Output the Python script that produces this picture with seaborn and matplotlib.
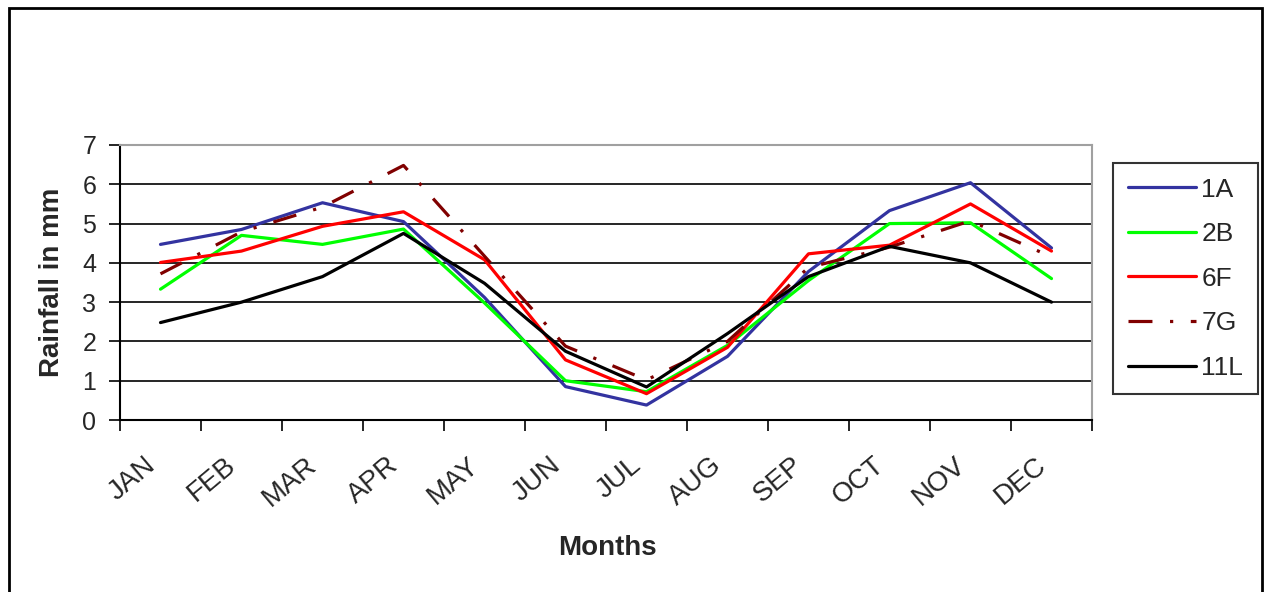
import matplotlib
matplotlib.use("Agg")
import matplotlib.pyplot as plt
import matplotlib.patches as mpatches
from matplotlib.transforms import ScaledTranslation
import seaborn as sns
import pandas as pd

months = ["JAN", "FEB", "MAR", "APR", "MAY", "JUN",
          "JUL", "AUG", "SEP", "OCT", "NOV", "DEC"]
s_1A = [4.47, 4.85, 5.53, 5.05, 3.12, 0.85, 0.38, 1.62, 3.78, 5.33, 6.04, 4.38]
s_2B = [3.33, 4.70, 4.47, 4.86, 2.98, 1.00, 0.72, 1.90, 3.55, 5.00, 5.02, 3.60]
s_6F = [4.01, 4.30, 4.93, 5.30, 4.08, 1.53, 0.67, 1.85, 4.23, 4.45, 5.50, 4.30]
s_7G = [3.72, 4.79, 5.42, 6.48, 4.17, 1.88, 1.02, 2.00, 3.88, 4.40, 5.07, 4.15]
s_11L = [2.48, 3.00, 3.65, 4.75, 3.48, 1.75, 0.84, 2.20, 3.65, 4.42, 4.00, 3.00]
series_names = ["1A", "2B", "6F", "7G", "11L"]
series_vals = [s_1A, s_2B, s_6F, s_7G, s_11L]
y_ticks = [0, 1, 2, 3, 4, 5, 6, 7]

rows = []
for name, vals in zip(series_names, series_vals):
    for i, v in enumerate(vals):
        rows.append({"idx": i, "month": months[i], "rain": v, "site": name})
df = pd.DataFrame(rows)

sns.set_style("white")
plt.rcParams["font.family"] = ["Liberation Sans", "DejaVu Sans"]

W, H = 1265, 592
fig = plt.figure(figsize=(W / 100, H / 100), dpi=100)
ax = fig.add_axes([120 / W, 1 - 420 / H, (1092 - 120) / W, (420 - 145) / H])

palette = {"1A": "#3333a0", "2B": "#00ff00", "6F": "#ff0000",
           "7G": "#800000", "11L": "#000000"}
dashes = {"1A": "", "2B": "", "6F": "", "7G": (7.5, 5.5, 1, 5.5), "11L": ""}

sns.lineplot(data=df, x="idx", y="rain", hue="site", style="site",
             hue_order=series_names, style_order=series_names,
             palette=palette, dashes=dashes, linewidth=2.3, ax=ax,
             legend=True, zorder=3)

ax.set_xlim(-0.5, 11.5)
ax.set_ylim(0, 7)
ax.set_yticks(y_ticks)
ax.yaxis.grid(True, color="black", linewidth=1.2)
ax.xaxis.grid(False)
ax.set_axisbelow(True)

ax.set_xticks(range(12))
ax.set_xticklabels(months, rotation=40, ha="right", va="top",
                   rotation_mode="anchor", fontsize=20)
ax.set_xticks([i - 0.5 for i in range(13)], minor=True)
ax.tick_params(axis="x", which="major", length=0, pad=23)
ax.tick_params(axis="x", which="minor", length=8, width=1.2, color="black",
               direction="out", bottom=True)
ax.tick_params(axis="y", which="major", length=8, width=1.2, color="black",
               direction="out", left=True, pad=9, labelsize=18)
shift = ScaledTranslation(-17 / 100, 0, fig.dpi_scale_trans)
for lab in ax.get_xticklabels():
    lab.set_transform(lab.get_transform() + shift)
ax.set_xlabel("")
ax.set_ylabel("")

for side in ["left", "bottom"]:
    ax.spines[side].set_color("black")
    ax.spines[side].set_linewidth(1.5)
for side in ["top", "right"]:
    ax.spines[side].set_color("#a0a0a0")
    ax.spines[side].set_linewidth(1.5)
    ax.spines[side].set_visible(True)

handles, labels = ax.get_legend_handles_labels()
for h in handles:
    h.set_linewidth(2.3)
ax.legend(handles, labels, loc="upper left",
          bbox_to_anchor=(1113 / W, 1 - 163 / H), bbox_transform=fig.transFigure,
          frameon=True, fancybox=False, edgecolor="black", fontsize=19,
          handlelength=2.6, handletextpad=0.2, labelspacing=0.78,
          borderpad=0.55, borderaxespad=0)
leg = ax.get_legend()
leg.get_frame().set_linewidth(1.5)

fig.text(607 / W, 1 - 548 / H, "Months", ha="center", va="center",
         fontsize=20, fontweight="bold")
fig.text(52 / W, 1 - 282 / H, "Rainfall in mm", ha="center", va="center",
         fontsize=20, fontweight="bold", rotation=90)

frame = mpatches.Rectangle((8.5 / W, -0.02), (1261.5 - 8.5) / W, 1.02 - 7.5 / H,
                           transform=fig.transFigure, fill=False,
                           edgecolor="black", linewidth=2, clip_on=False)
fig.patches.append(frame)

fig.savefig("out.png", dpi=100)
